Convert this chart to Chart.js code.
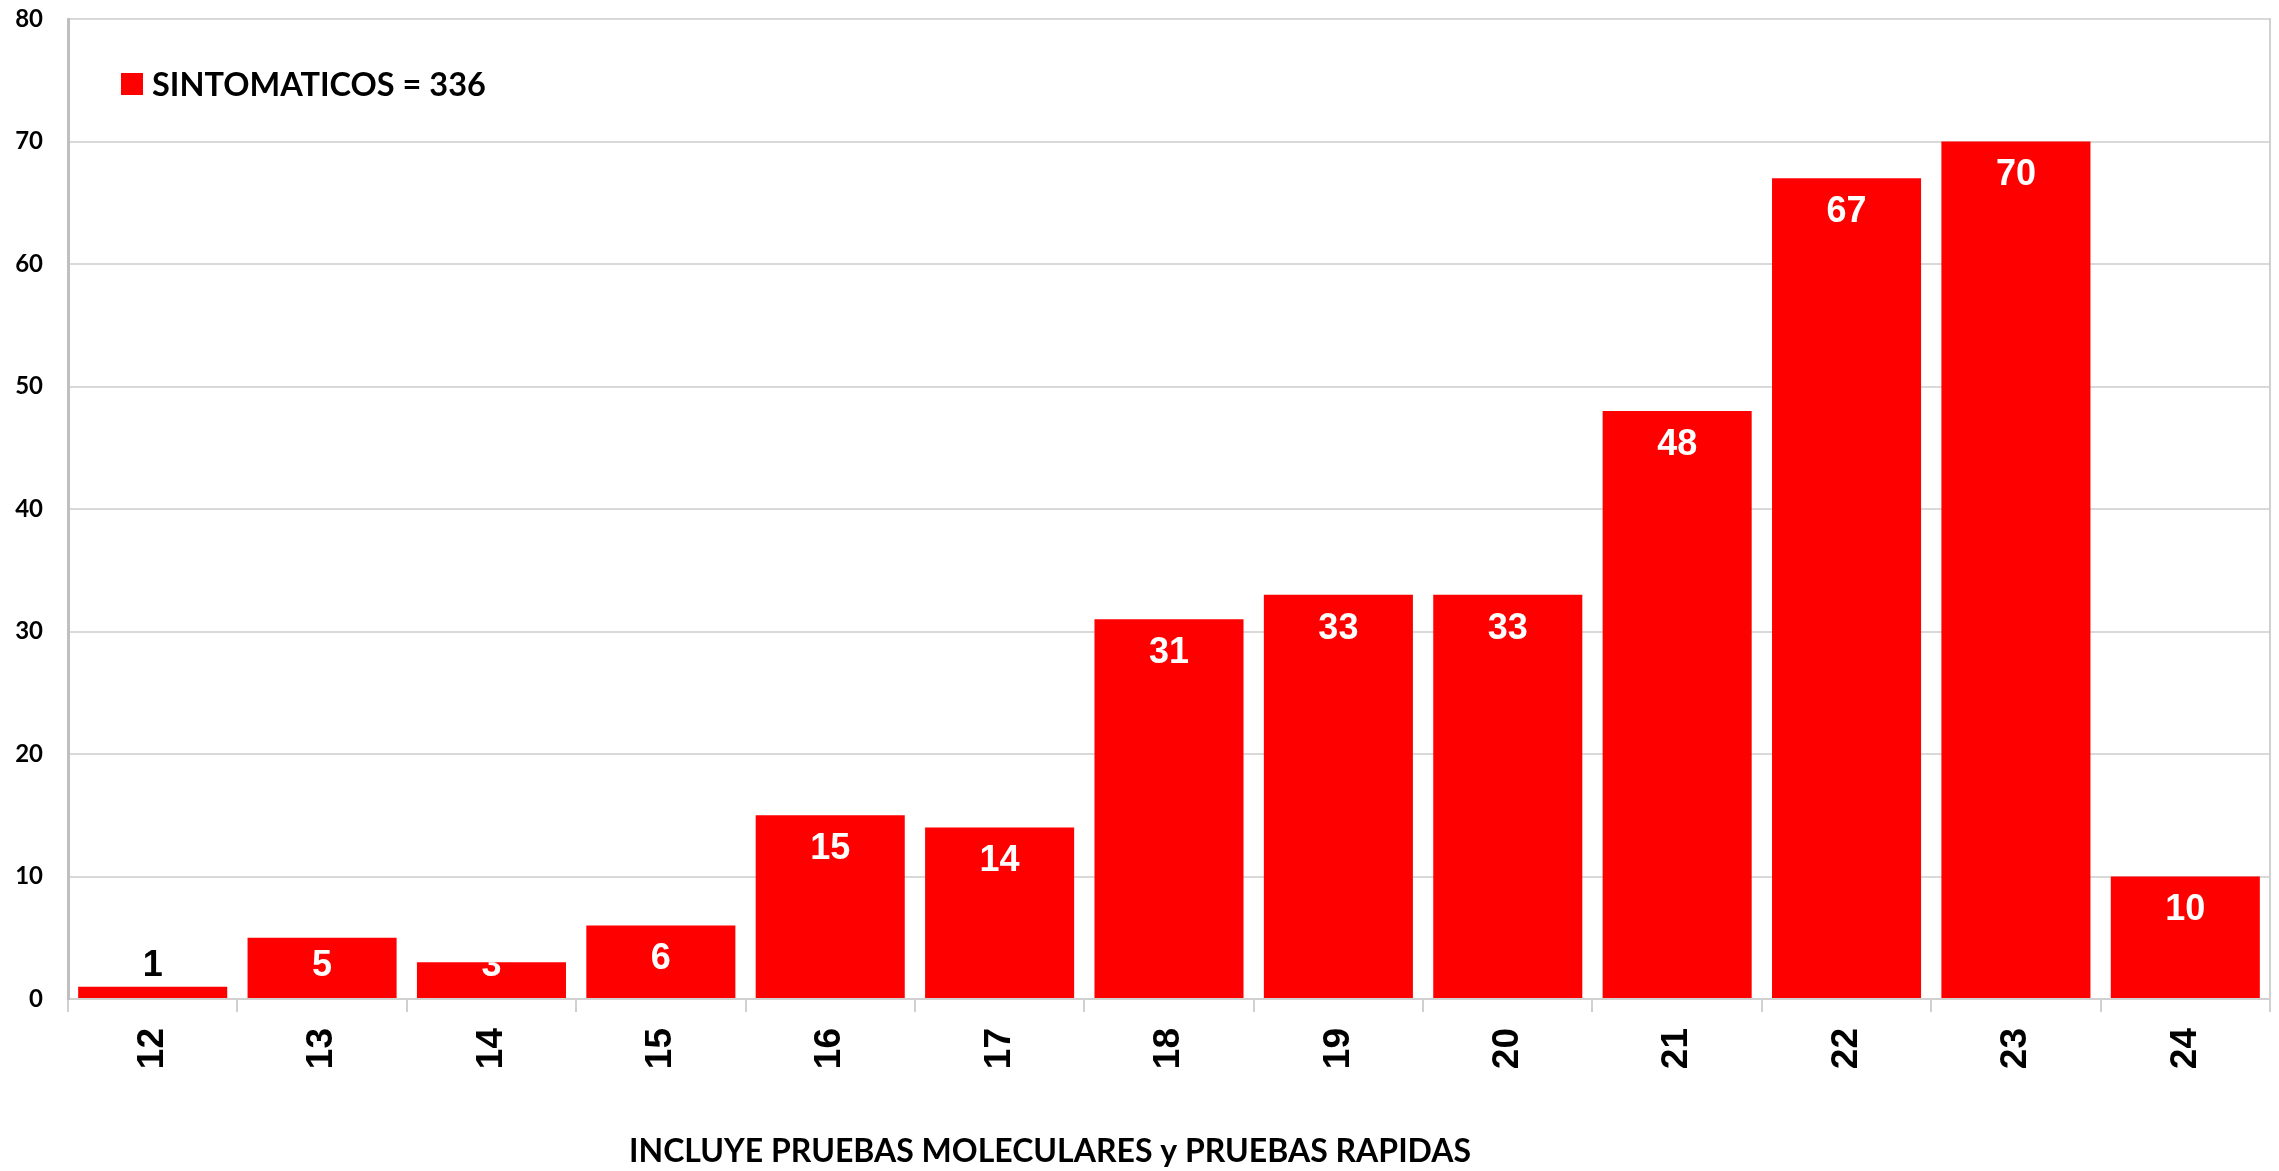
<!DOCTYPE html>
<html>
<head>
<meta charset="utf-8">
<script src="https://cdn.jsdelivr.net/npm/chart.js@4/dist/chart.umd.min.js"></script>
<style>
  html, body { margin: 0; padding: 0; background: #fff; }
  #wrap { width: 2279px; height: 1171px; position: relative; }
</style>
</head>
<body>
<div id="wrap"><canvas id="c"></canvas></div>
<script>
const weeks = ['12', '13', '14', '15', '16', '17', '18', '19', '20', '21', '22', '23', '24'];
const cases = [1, 5, 3, 6, 15, 14, 31, 33, 33, 48, 67, 70, 10];
const seriesLabel = 'SINTOMATICOS = 336';
const footnote = 'INCLUYE PRUEBAS MOLECULARES y PRUEBAS RAPIDAS';
const yMin = 0, yMax = 80, yStep = 10;

const barLabels = {
  id: 'barLabels',
  afterDatasetsDraw(chart) {
    const ctx = chart.ctx;
    const meta = chart.getDatasetMeta(0);
    ctx.save();
    ctx.font = 'bold 36px "Liberation Sans", Arial, sans-serif';
    ctx.textAlign = 'center';
    ctx.textBaseline = 'middle';
    meta.data.forEach((bar, i) => {
      const p = bar.getProps(['x', 'y', 'base', 'width'], true);
      const h = p.base - p.y;
      const cy = Math.min(p.y + 34, p.base - 32);
      const txt = String(cases[i]);
      if (h < 20) {
        ctx.fillStyle = '#000';
        ctx.fillText(txt, p.x, cy);
      } else {
        ctx.save();
        ctx.beginPath();
        ctx.rect(p.x - p.width / 2, p.y, p.width, h);
        ctx.clip();
        ctx.fillStyle = '#fff';
        ctx.fillText(txt, p.x, cy);
        ctx.restore();
      }
    });
    ctx.restore();
  }
};

const extras = {
  id: 'extras',
  afterDraw(chart) {
    const ctx = chart.ctx;
    const a = chart.chartArea;
    ctx.save();
    ctx.fillStyle = '#ff0000';
    ctx.fillRect(a.left + 53, 73, 22, 22);
    ctx.fillStyle = '#000';
    ctx.font = 'bold 32.5px Lato, "Open Sans", sans-serif';
    ctx.textAlign = 'left';
    ctx.textBaseline = 'middle';
    ctx.fillText(seriesLabel, a.left + 84, 86);
    ctx.font = 'bold 32px Lato, "Open Sans", sans-serif';
    ctx.textAlign = 'center';
    ctx.fillText(footnote, 1050, 1152);
    ctx.restore();
  }
};

new Chart(document.getElementById('c'), {
  type: 'bar',
  data: {
    labels: weeks,
    datasets: [{
      label: seriesLabel,
      data: cases,
      backgroundColor: '#ff0000',
      borderWidth: 0,
      barPercentage: 0.88,
      categoryPercentage: 1.0
    }]
  },
  options: {
    responsive: true,
    maintainAspectRatio: false,
    animation: false,
    layout: { padding: { top: 19, left: 0, right: 0, bottom: 0 } },
    plugins: {
      legend: { display: false },
      tooltip: { enabled: false },
      title: { display: false }
    },
    scales: {
      x: {
        offset: true,
        afterFit(scale) { scale.height = 172; scale.paddingLeft = 0; scale.paddingRight = 0; },
        grid: {
          offset: true,
          drawOnChartArea: false,
          drawTicks: true,
          tickLength: 13,
          color: '#d0d0d0',
          lineWidth: 2
        },
        border: { color: '#d0d0d0', width: 2 },
        ticks: {
          minRotation: 90,
          maxRotation: 90,
          padding: 16,
          color: '#000',
          font: { family: '"Liberation Sans", Arial, sans-serif', size: 37, weight: 'bold' }
        }
      },
      y: {
        min: yMin,
        max: yMax,
        afterFit(scale) { scale.width = 68; scale.paddingTop = 0; scale.paddingBottom = 0; },
        ticks: {
          stepSize: yStep,
          padding: 25,
          color: '#000',
          font: { family: 'Lato, "Open Sans", sans-serif', size: 24, weight: 'bold' }
        },
        grid: { color: '#d9d9d9', lineWidth: 2, drawTicks: false },
        border: { color: '#bfbfbf', width: 3 }
      },
      y2: {
        position: 'right',
        min: yMin,
        max: yMax,
        afterFit(scale) { scale.width = 9; scale.paddingTop = 0; scale.paddingBottom = 0; },
        ticks: { display: false },
        grid: { drawOnChartArea: false, drawTicks: false },
        border: { color: '#d0d0d0', width: 2 }
      }
    }
  },
  plugins: [barLabels, extras]
});
</script>
</body>
</html>
